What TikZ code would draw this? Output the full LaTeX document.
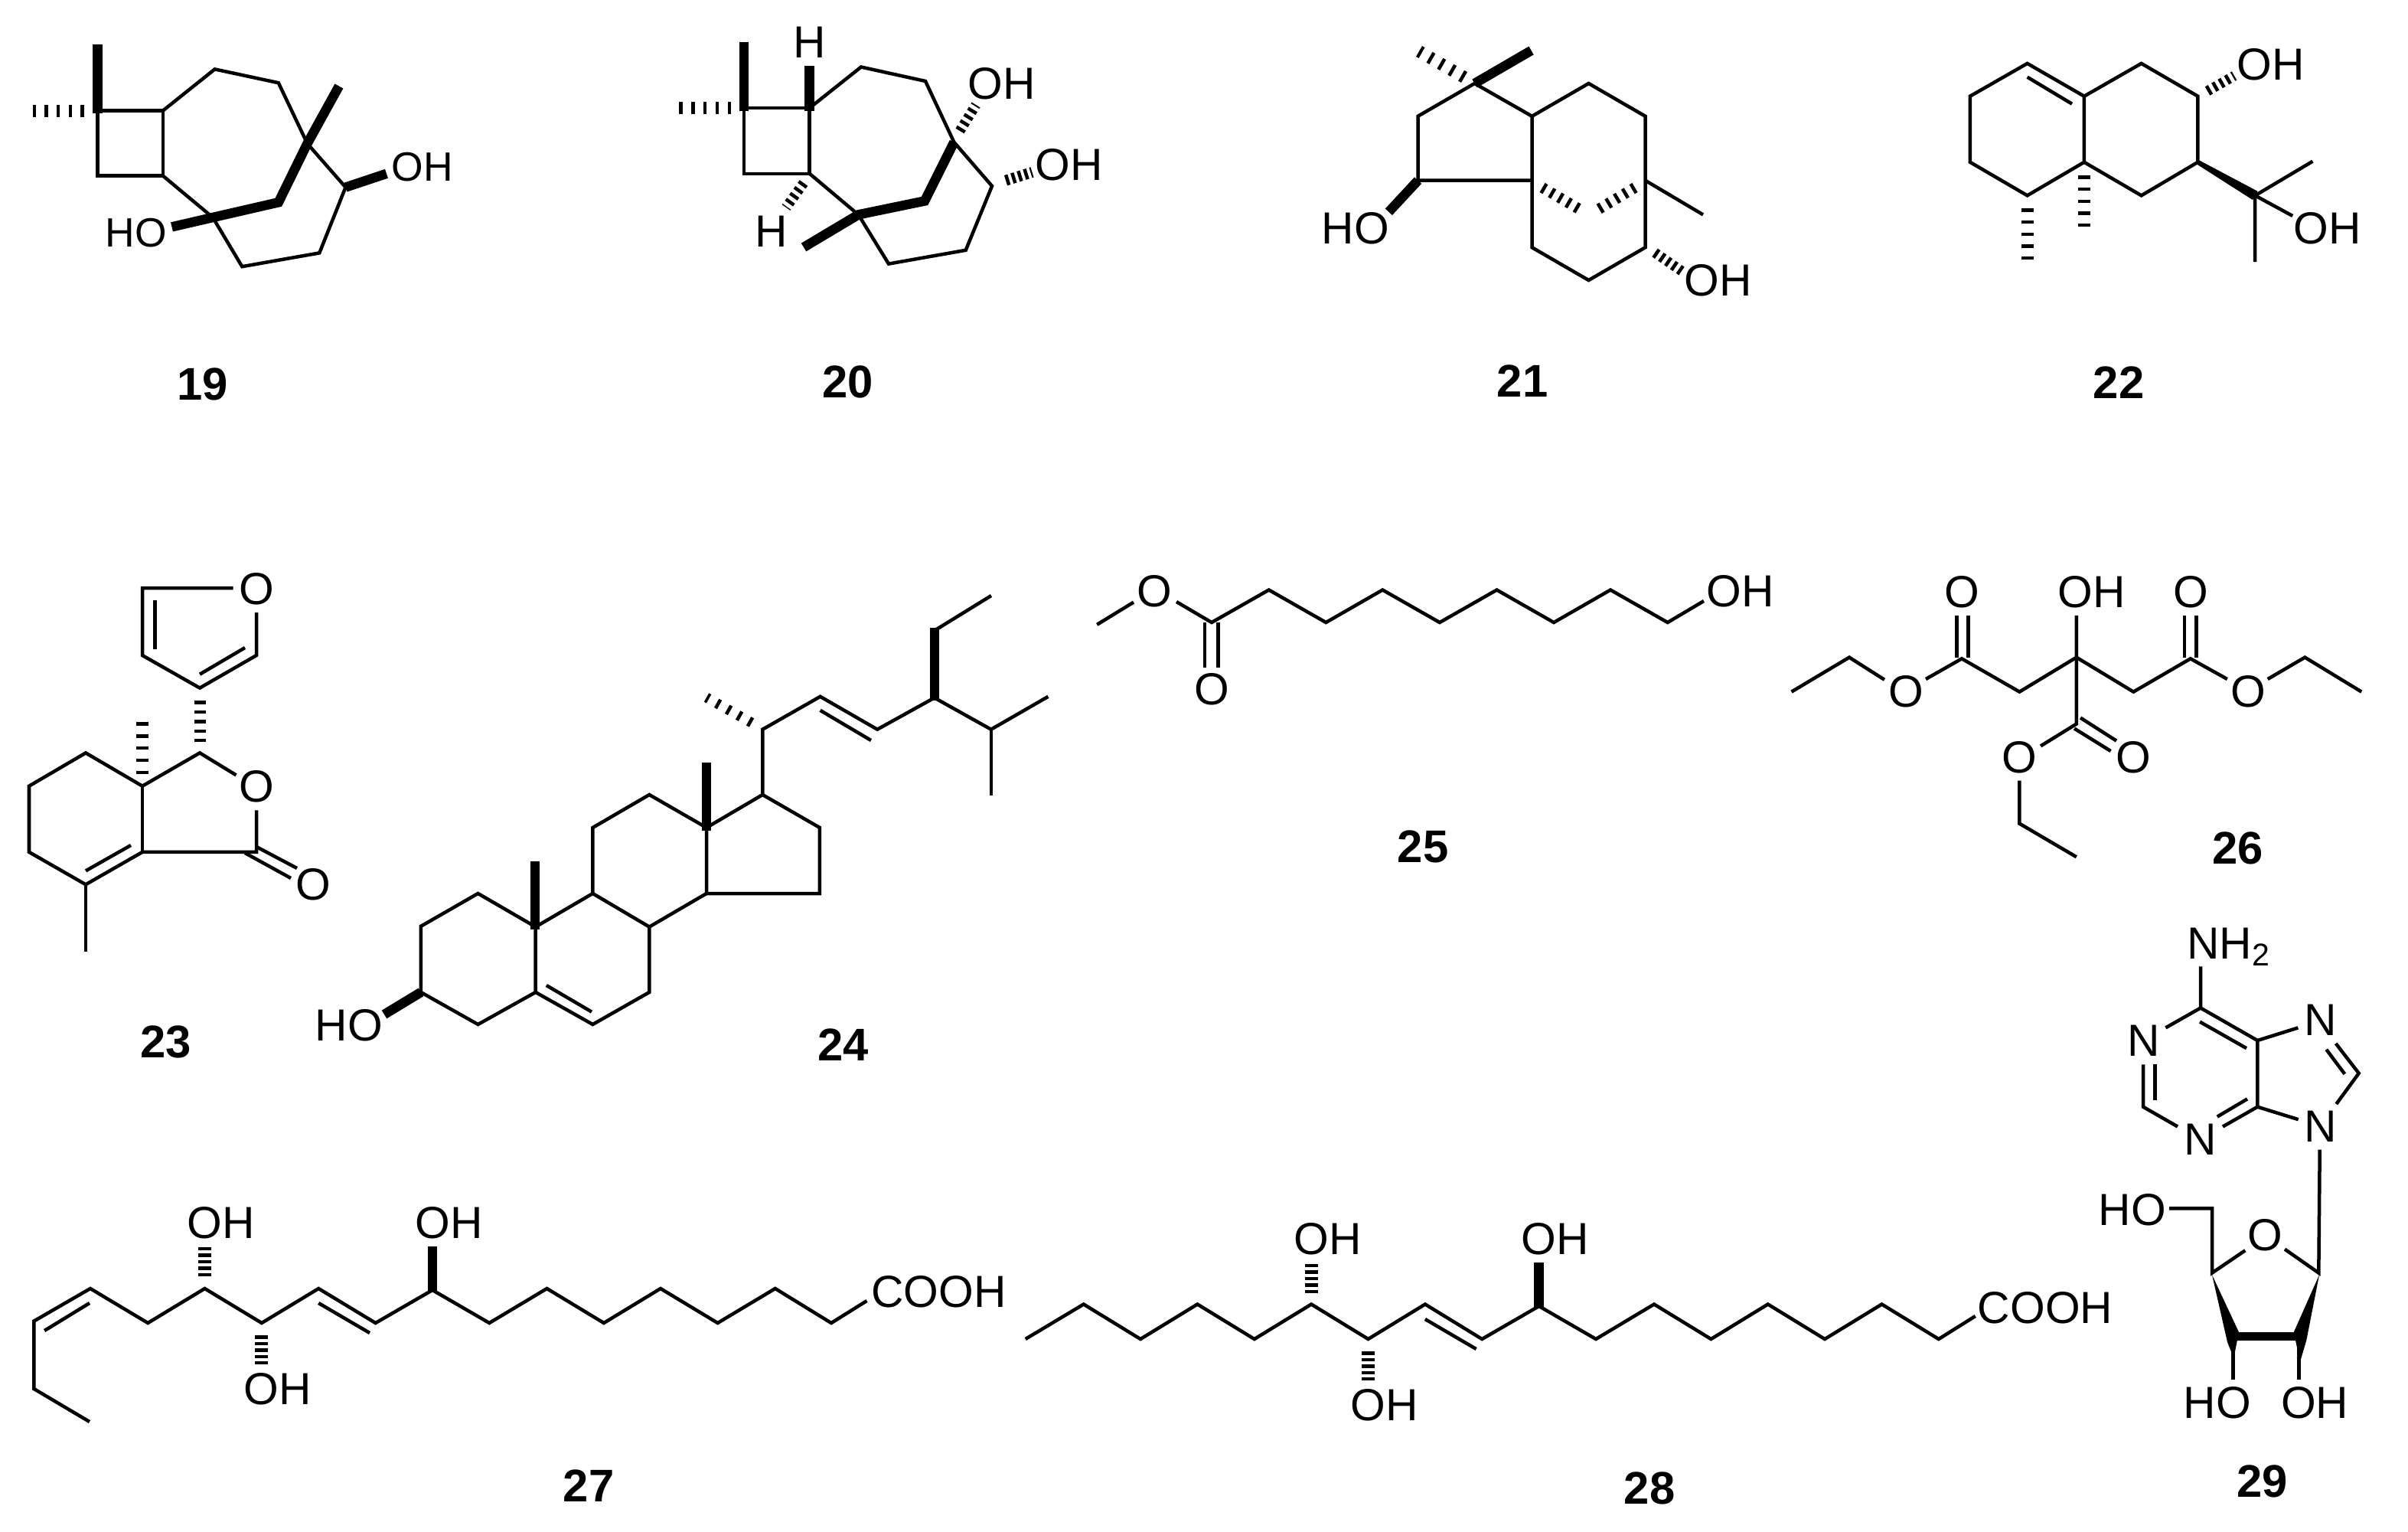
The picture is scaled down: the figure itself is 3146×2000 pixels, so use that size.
\documentclass[tikz,border=0pt]{standalone}
\usepackage{fontspec}
\setmainfont{Liberation Sans}
\tikzset{
	bond/.style={line width=0.045cm},
	boldbond/.style={line width=0.125cm},
	hashbond/.style={line width=0.16cm,dash pattern=on 0.045cm off #1},
	atom/.style={inner sep=0pt,font=\fontsize{16.7}{18}\selectfont},
	atomsmall/.style={inner sep=0pt,font=\fontsize{15.2}{17}\selectfont},
	cpd/.style={inner sep=0pt,font=\fontsize{17}{19}\selectfont\bfseries}
}
\begin{document}
\begin{tikzpicture}[x=0.01cm,y=-0.01cm]
	\useasboundingbox (0,0) rectangle (3146,2000);
	% 19
	\draw[bond] (127.5,144.6) -- (212.8,144.6) -- (212.8,229.6) -- (127.5,229.6) -- cycle;
	\draw[bond] (212.8,144.6) -- (280.6,90.4) -- (363.8,108.2) -- (401.5,187.5) -- (451.5,244.6) -- (417.3,330.4) -- (316.3,348.2) -- (278,284) -- (212.8,229.6);
	\draw[boldbond] (224.5,296.4) -- (278,284) -- (363.8,264.3) -- (401.5,187.5) -- (442.9,112.5);
	\draw[boldbond] (127.5,57.9) -- (127.5,148);
	\draw[boldbond] (451.5,244.6) -- (505,226.8);
	\draw[hashbond=0.113cm] (110,144.6) -- (43,144.6);
	\node[atomsmall] (oh19) at (552,218) {OH};
	\node[atomsmall] (ho19) at (177.5,303.6) {HO};
	\node[cpd] (lbl19) at (265,502) {19};
	% 20
	\draw[bond] (972,141) -- (1057.7,141) -- (1057.7,226.8) -- (972,226.8) -- cycle;
	\draw[bond] (1057.7,141) -- (1125,87.5) -- (1209,106) -- (1246.4,185.7) -- (1296,243) -- (1261.7,326.8) -- (1161,344.6) -- (1121.4,280.4) -- (1057.7,226.8);
	\draw[boldbond] (1050,323) -- (1121.4,280.4) -- (1208,262.5) -- (1246.4,185.7);
	\draw[boldbond] (972,55.4) -- (972,145);
	\draw[boldbond] (1057.7,85.7) -- (1057.7,145);
	\draw[hashbond=0.113cm] (955,141) -- (887,141);
	\draw[hashbond=0.05cm,line width=0.13cm] (1254,171) -- (1275,137);
	\draw[hashbond=0.05cm,line width=0.13cm] (1050,239) -- (1027,271);
	\draw[hashbond=0.04cm,line width=0.14cm] (1314,235.7) -- (1348.5,225);
	\node[atom] (h20a) at (1057.7,55) {H};
	\node[atom] (h20b) at (1008,302) {H};
	\node[atom] (oh20a) at (1309,109) {OH};
	\node[atom] (oh20b) at (1397,215) {OH};
	\node[cpd] (lbl20) at (1107.7,499) {20};
	% 21
	\draw[bond] (1926.5,109) -- (1852.5,151.8) -- (1852.5,235.7) -- (2001.5,235.7) -- (2001.5,151.8) -- cycle;
	\draw[bond] (2001.5,151.8) -- (2075.5,109) -- (2149.5,151.8) -- (2149.5,323.2) -- (2075.5,366) -- (2001.5,323.2) -- (2001.5,235.7);
	\draw[bond] (2149.5,235.7) -- (2225,280.4);
	\draw[boldbond] (1926.5,109) -- (2000.5,66);
	\draw[boldbond] (1852.5,235.7) -- (1814.3,276.8);
	\draw[hashbond=0.115cm] (1913,101) -- (1854,67);
	\draw[hashbond=0.08cm,line width=0.14cm] (2015,245) -- (2063,273);
	\draw[hashbond=0.08cm,line width=0.14cm] (2136,245) -- (2089,273);
	\draw[hashbond=0.05cm,line width=0.13cm] (2162,330) -- (2197,354);
	\node[atom] (ho21) at (1771,298) {HO};
	\node[atom] (oh21) at (2245,366) {OH};
	\node[cpd] (lbl21) at (1989,498) {21};
	% 22
	\draw[bond] (2573.8,125.7) -- (2648.6,82.9) -- (2722.9,125.7) -- (2722.9,211.8) -- (2648.6,255.4) -- (2573.8,211.8) -- cycle;
	\draw[bond] (2722.9,125.7) -- (2797.6,82.9) -- (2871.4,125.7) -- (2871.4,211.8) -- (2797.6,255.4) -- (2722.9,211.8);
	\draw[bond] (2648.6,100.7) -- (2707,135.7);
	\draw[bond] (3021.4,210.7) -- (2946.2,255.4) -- (2946.2,342);
	\draw[bond] (2946.2,255.4) -- (2995.2,282);
	\fill (2872.9,209.2) -- (2869.9,214.4) -- (2942.9,261) -- (2949.5,249.8) -- cycle;
	\draw[hashbond=0.05cm,line width=0.13cm] (2884,119) -- (2919,99);
	\draw[hashbond=0.113cm] (2648.6,272) -- (2648.6,339);
	\draw[hashbond=0.113cm] (2722.9,229) -- (2722.9,296);
	\node[atom] (oh22a) at (2966.7,84) {OH};
	\node[atom] (oh22b) at (3040.5,298) {OH};
	\node[cpd] (lbl22) at (2768,500) {22};
	% 23
	\draw[bond] (304.6,768) -- (186,768) -- (186,856) -- (261,898.6) -- (335,856) -- (335,800);
	\draw[bond] (202.5,784) -- (202.5,848);
	\draw[bond] (261,880.7) -- (320,846);
	\draw[bond] (308.5,1012.4) -- (261,983.4) -- (186,1026.7) -- (112,983.4) -- (38,1026.7) -- (38,1112.9) -- (112,1155.3) -- (186,1112.9) -- (335,1112.9) -- (335,1058.4);
	\draw[bond] (186,1026.7) -- (186,1112.9);
	\draw[bond] (112,1137.4) -- (171,1104);
	\draw[bond] (112,1155.3) -- (112,1243);
	\draw[bond] (335,1106) -- (388,1134);
	\draw[bond] (320,1114) -- (380,1147);
	\draw[hashbond=0.08cm,line width=0.15cm] (261,915) -- (261,969);
	\draw[hashbond=0.113cm,line width=0.15cm] (186,1011) -- (186,943);
	\node[atom] (o23a) at (335,769) {O};
	\node[atom] (o23b) at (335,1027) {O};
	\node[atom] (o23c) at (409.5,1155) {O};
	\node[cpd] (lbl23) at (216.7,1360.6) {23};
	% 24
	\draw[bond] (549.9,1209.8) -- (624.5,1167) -- (699.7,1210.6) -- (699.7,1296) -- (624.5,1338) -- (549.9,1296) -- cycle;
	\draw[bond] (699.7,1210.6) -- (774.4,1167) -- (848.3,1210.6) -- (848.3,1296) -- (774.4,1338) -- (699.7,1296);
	\draw[bond] (713.8,1287) -- (773,1321.6);
	\draw[bond] (774.4,1167) -- (774.4,1081) -- (848.3,1038) -- (923,1081) -- (923,1167) -- (848.3,1210.6);
	\draw[bond] (923,1081) -- (996.3,1038) -- (1070.9,1081) -- (1070.9,1167) -- (923,1167);
	\draw[bond] (996.3,1038) -- (996.3,952.7) -- (1071.6,909.8) -- (1146.2,952.7) -- (1220.8,911.4) -- (1294.8,952.7) -- (1369.4,909.8);
	\draw[bond] (1294.8,952.7) -- (1294.8,1039);
	\draw[bond] (1071.6,927.8) -- (1137.9,967);
	\draw[bond] (1220.8,823.7) -- (1295,778);
	\draw[boldbond] (699.2,1214) -- (699.2,1125);
	\draw[boldbond] (923,1085) -- (923,996);
	\draw[boldbond] (1220.8,915) -- (1220.8,820);
	\draw[boldbond] (549.9,1296) -- (502,1325);
	\draw[hashbond=0.115cm,line width=0.13cm] (982,944) -- (923,911);
	\node[atom] (ho24) at (456,1339) {HO};
	\node[cpd] (lbl24) at (1101.5,1364.5) {24};
	% 25
	\draw[bond] (1433.2,815.8) -- (1481,786.6);
	\draw[bond] (1537,786) -- (1583,813) -- (1657.7,770.5) -- (1732.3,813) -- (1806.3,770.5) -- (1880.9,813) -- (1955.5,770.5) -- (2030,813) -- (2104,770.5) -- (2178.7,813) -- (2225.9,785);
	\draw[bond] (1574,813) -- (1574,871.8);
	\draw[bond] (1591.3,813) -- (1591.3,871.8);
	\node[atom] (o25a) at (1508.4,772) {O};
	\node[atom] (o25b) at (1583,900.7) {O};
	\node[atom] (oh25) at (2273.7,772) {OH};
	\node[cpd] (lbl25) at (1859,1106) {25};
	% 26
	\draw[bond] (2340.5,903.6) -- (2416,858.6) -- (2462,887.8);
	\draw[bond] (2516,887) -- (2563,860.3) -- (2638.4,903.6) -- (2712.8,858.6) -- (2787.3,903.6) -- (2861.8,860.3) -- (2909.8,887);
	\draw[bond] (2962.7,887) -- (3011.3,858.6) -- (3085.2,903.6);
	\draw[bond] (2556.3,803.9) -- (2556.3,859);
	\draw[bond] (2571.5,803.9) -- (2571.5,859);
	\draw[bond] (2854,803.9) -- (2854,859);
	\draw[bond] (2869.3,803.9) -- (2869.3,859);
	\draw[bond] (2712.8,803.9) -- (2712.8,945.5) -- (2666,974.4);
	\draw[bond] (2718,937.5) -- (2765,967.6);
	\draw[bond] (2710,951.5) -- (2757.6,981);
	\draw[bond] (2638.4,1019.7) -- (2638.4,1075.7) -- (2712.8,1119.3);
	\node[atom] (o26a) at (2563,773) {O};
	\node[atom] (oh26) at (2733,773.7) {OH};
	\node[atom] (o26b) at (2861.8,773) {O};
	\node[atom] (o26c) at (2490,903) {O};
	\node[atom] (o26d) at (2936.8,903) {O};
	\node[atom] (o26e) at (2638.4,989) {O};
	\node[atom] (o26f) at (2787.3,989) {O};
	\node[cpd] (lbl26) at (2923.3,1107.6) {26};
	% 27
	\draw[bond] (117,1857) -- (44.4,1814) -- (44.4,1725.5) -- (118,1683) -- (193.2,1728) -- (267.5,1683) -- (341.9,1728) -- (416.2,1683) -- (490.6,1728) -- (565,1685) -- (639.3,1728) -- (714.5,1683) -- (788.9,1728) -- (863,1683) -- (937.6,1728) -- (1012.8,1683) -- (1086,1728) -- (1132.5,1699);
	\draw[bond] (117,1702) -- (58.1,1738);
	\draw[bond] (416.2,1702) -- (483,1741);
	\draw[boldbond] (565,1687) -- (565,1628);
	\draw[hashbond=0.04cm,line width=0.17cm] (267.5,1667) -- (267.5,1629);
	\draw[hashbond=0.04cm,line width=0.17cm] (341.9,1744) -- (341.9,1782);
	\node[atom] (oh27a) at (289,1597) {OH};
	\node[atom] (oh27b) at (363,1814) {OH};
	\node[atom] (oh27c) at (587,1597) {OH};
	\node[atom] (cooh27) at (1226.5,1687) {COOH};
	\node[cpd] (lbl27) at (769,1941) {27};
	% 28
	\draw[bond] (1339.7,1749) -- (1415.7,1703.5) -- (1490,1749) -- (1564.4,1703.5) -- (1638.8,1749) -- (1713.2,1703.5) -- (1787.5,1749) -- (1861.9,1703.5) -- (1936.2,1749) -- (2010.6,1706) -- (2085,1749) -- (2161,1703.5) -- (2235.4,1749) -- (2309.7,1703.5) -- (2384,1749) -- (2458.5,1703.5) -- (2532.8,1749) -- (2580.7,1719);
	\draw[bond] (1861.9,1723) -- (1928.6,1762);
	\draw[boldbond] (2010.6,1708) -- (2010.6,1649.4);
	\draw[hashbond=0.04cm,line width=0.17cm] (1713.2,1689) -- (1713.2,1651);
	\draw[hashbond=0.04cm,line width=0.17cm] (1787.5,1765) -- (1787.5,1803);
	\node[atom] (oh28a) at (1734.5,1618) {OH};
	\node[atom] (oh28b) at (1809,1835) {OH};
	\node[atom] (oh28c) at (2032,1618) {OH};
	\node[atom] (cooh28) at (2672,1708) {COOH};
	\node[cpd] (lbl28) at (2155,1943.5) {28};
	% 29
	\draw[bond] (2875,1262.3) -- (2875,1316.5) -- (2949.3,1359) -- (2949.3,1445.7) -- (3002.7,1462.2);
	\draw[bond] (2875,1316.5) -- (2829.3,1342.4);
	\draw[bond] (2874,1334.6) -- (2935,1369.2);
	\draw[bond] (2800,1390.4) -- (2800,1445.7) -- (2845,1471.5);
	\draw[bond] (2815.7,1390.4) -- (2815.7,1437);
	\draw[bond] (2904,1471.5) -- (2949.3,1445.7);
	\draw[bond] (2896.7,1458.6) -- (2936,1435.4);
	\draw[bond] (2949.3,1359) -- (3002.3,1342.4);
	\draw[bond] (3051.7,1363) -- (3081.7,1401.8) -- (3052.3,1442);
	\draw[bond] (3039.3,1370.8) -- (3063.3,1402.8);
	\draw[bond] (3030.7,1501.5) -- (3029.3,1662.6) -- (2985,1631.6);
	\draw[bond] (2933.3,1633.2) -- (2890,1662.6) -- (2890,1578.4) -- (2834,1578.4);
	\draw[bond] (2917.7,1755) -- (2917.7,1802);
	\draw[bond] (3003.3,1755) -- (3003.3,1802);
	\draw[line width=0.11cm] (2920,1745.3) -- (3000,1745.3);
	\fill (2890,1665.2) -- (2925,1740) -- (2918.3,1773.7) -- (2910,1753) -- cycle;
	\fill (3030,1665.2) -- (2996.7,1740) -- (3005,1778.8) -- (3013.3,1750.4) -- cycle;
	\node[atom,anchor=base west] (nh29) at (2856.7,1252) {NH\textsubscript{2}};
	\node[atom] (n29a) at (2800.7,1359.4) {N};
	\node[atom] (n29b) at (2875,1488) {N};
	\node[atom] (n29c) at (3031.7,1332) {N};
	\node[atom] (n29d) at (3031.7,1471.5) {N};
	\node[atom] (o29) at (2959,1613.6) {O};
	\node[atom] (ho29a) at (2786,1580) {HO};
	\node[atom] (ho29b) at (2896.7,1832) {HO};
	\node[atom] (oh29) at (3024,1832) {OH};
	\node[cpd] (lbl29) at (2955.7,1935.3) {29};
\end{tikzpicture}
\end{document}
